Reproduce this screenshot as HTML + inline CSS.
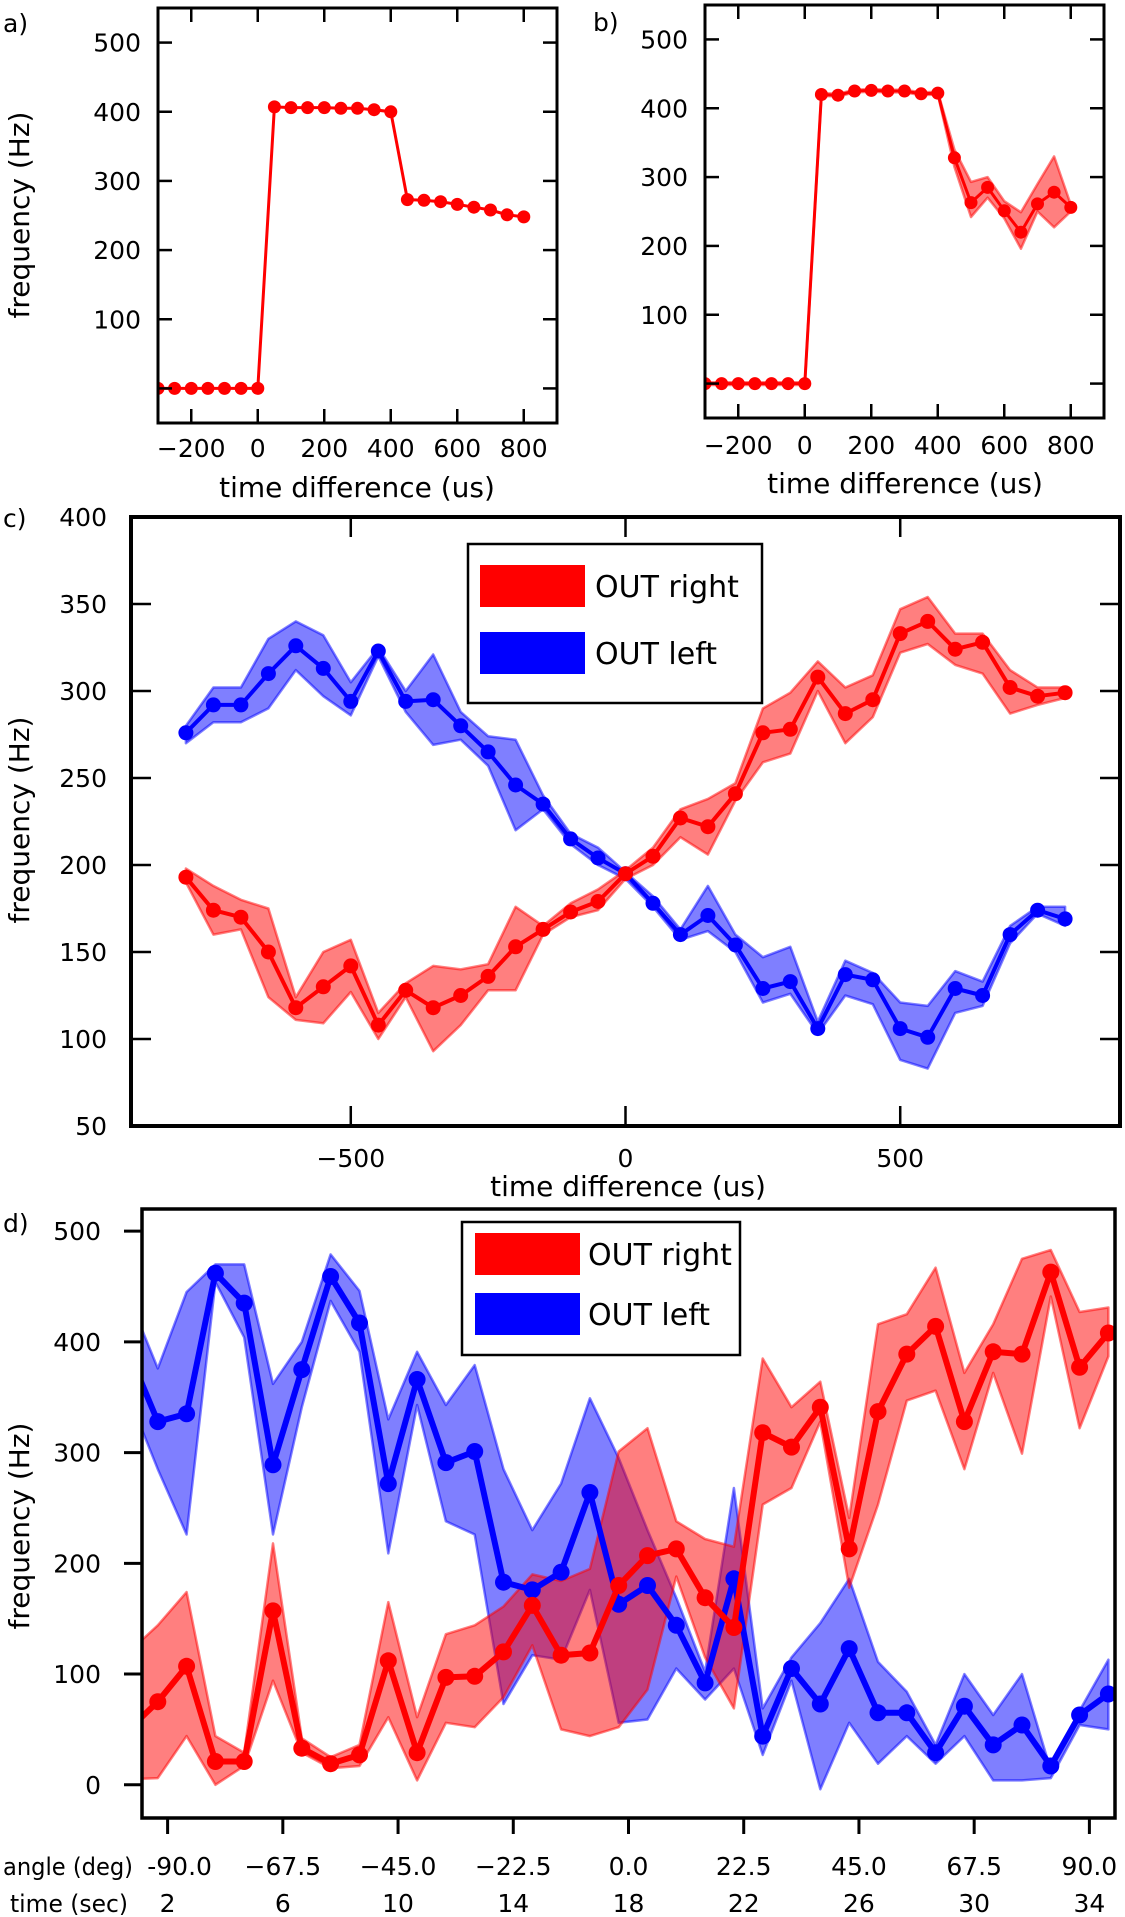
<!DOCTYPE html>
<html><head><meta charset="utf-8"><title>Frequency vs time difference</title>
<style>
html,body{margin:0;padding:0;background:#fff;}
svg{display:block;font-family:"DejaVu Sans","Liberation Sans",sans-serif;}
</style></head>
<body>
<svg id="fig" width="1125" height="1917" viewBox="0 0 1125 1917" xmlns="http://www.w3.org/2000/svg">
<rect x="0" y="0" width="1125" height="1917" fill="#fff"/>
</svg>
<script>
// ---------- Panel a ----------
const aX = [-300,-250,-200,-150,-100,-50,0,50,100,150,200,250,300,350,400,450,500,550,600,650,700,750,800];
const aY = [0,0,0,0,0,0,0,407,406,406,406,405,405,403,400,273,272,270,266,262,258,251,248];
const abXTicks = [-200,0,200,400,600,800];
const abYTicks = [0,100,200,300,400,500];
const abYLabels = ["","100","200","300","400","500"];
// ---------- Panel b ----------
const bX = [-300,-250,-200,-150,-100,-50,0,50,100,150,200,250,300,350,400,450,500,550,600,650,700,750,800];
const bY = [0,0,0,0,0,0,0,420,419,425,426,425,425,421,422,328,263,285,251,220,261,278,256];
const bUp = [2,2,2,2,2,2,2,422,421,427,428,427,427,423,424,340,293,300,265,249,290,330,260];
const bLo = [-2,-2,-2,-2,-2,-2,-2,418,417,423,424,423,423,419,420,315,242,270,240,196,250,227,250];
// ---------- Panel c ----------
const cX = [-800,-750,-700,-650,-600,-550,-500,-450,-400,-350,-300,-250,-200,-150,-100,-50,0,50,100,150,200,250,300,350,400,450,500,550,600,650,700,750,800];
const cLeft   = [276,292,292,310,326,313,294,323,294,295,280,265,246,235,215,204,195,178,160,171,154,129,133,106,137,134,106,101,129,125,160,174,169];
const cLeftUp = [280,302,302,330,340,332,305,325,300,321,288,274,272,240,218,210,196,182,163,188,160,147,153,110,145,138,121,119,139,133,165,176,176];
const cLeftLo = [270,282,282,290,312,297,286,320,288,269,272,257,220,232,212,200,192,176,157,162,150,121,126,103,125,120,88,83,115,119,155,172,165];
const cRight   = [193,174,170,150,118,130,142,108,128,118,125,136,153,163,173,179,195,205,227,222,241,276,278,308,287,295,333,340,324,328,302,297,299];
const cRightUp = [198,188,180,175,124,150,157,115,132,142,140,143,176,165,178,186,197,210,232,238,247,290,299,317,302,309,347,354,333,333,312,302,302];
const cRightLo = [190,160,163,124,111,109,127,100,124,93,108,128,128,160,170,174,192,200,216,206,237,259,264,300,270,285,322,327,315,310,287,292,296];
const cXTicks = [-500,0,500];
const cYTicks = [50,100,150,200,250,300,350,400];
// ---------- Panel d ----------
const dTime = [0.66,1.66,2.66,3.66,4.66,5.66,6.66,7.66,8.66,9.66,10.66,11.66,12.66,13.66,14.66,15.66,16.66,17.66,18.66,19.66,20.66,21.66,22.66,23.66,24.66,25.66,26.66,27.66,28.66,29.66,30.66,31.66,32.66,33.66,34.66];
const dLeft   = [390,328,335,462,435,289,375,459,417,272,366,291,301,183,176,192,264,163,180,144,92,186,44,105,73,123,65,65,29,71,36,54,17,63,82];
const dLeftUp = [440,376,445,470,470,362,400,479,446,330,391,343,379,285,230,272,349,295,230,169,102,268,69,115,146,186,111,84,36,100,63,100,13,67,113];
const dLeftLo = [350,285,226,454,404,226,341,437,391,209,343,238,226,73,117,113,176,56,59,105,77,105,27,94,-4,56,19,44,19,44,4,4,6,54,50];
const dRight   = [50,75,107,21,21,157,33,19,27,112,29,97,98,120,162,117,119,180,207,213,169,142,318,305,341,213,337,389,414,328,391,389,463,377,408];
const dRightUp = [120,144,174,44,29,218,42,25,36,165,61,136,144,161,190,184,195,301,322,238,222,215,385,341,364,241,416,425,467,372,416,475,483,427,431];
const dRightLo = [5,6,44,0,17,94,29,15,17,61,4,56,52,79,126,50,44,52,86,188,115,69,253,268,328,178,253,347,356,285,372,299,441,322,387];
const dAngleTicks = [-90,-67.5,-45,-22.5,0,22.5,45,67.5,90];
const dAngleLabels = ["-90.0","\u221267.5","\u221245.0","\u221222.5","0.0","22.5","45.0","67.5","90.0"];
const dTimeLabels = ["2","6","10","14","18","22","26","30","34"];
const dYTicks = [0,100,200,300,400,500];

const NS = "http://www.w3.org/2000/svg";
const svg = document.getElementById("fig");
function mk(tag, attrs, parent) {
  const e = document.createElementNS(NS, tag);
  for (const k in attrs) e.setAttribute(k, attrs[k]);
  (parent || svg).appendChild(e);
  return e;
}
function lin(d0, d1, r0, r1) { return v => r0 + (v - d0) * (r1 - r0) / (d1 - d0); }
function fmt(v) { return v < 0 ? "\u2212" + Math.abs(v) : String(v); }

function panel(name, L, T, R, B, xd, yd) {
  const g = mk("g", {});
  
  
  const cp = mk("clipPath", {id: "clip-" + name}, g);
  mk("rect", {x: L, y: T, width: R - L, height: B - T}, cp);
  const plot = mk("g", {"clip-path": "url(#clip-" + name + ")"}, g);
  
  
  return {g, plot, L, T, R, B, sx: lin(xd[0], xd[1], L, R), sy: lin(yd[0], yd[1], B, T)};
}
function band(p, xs, up, lo, color, alpha, nm) {
  let pts = [];
  for (let i = 0; i < xs.length; i++) pts.push(p.sx(xs[i]).toFixed(1) + "," + p.sy(up[i]).toFixed(1));
  for (let i = xs.length - 1; i >= 0; i--) pts.push(p.sx(xs[i]).toFixed(1) + "," + p.sy(lo[i]).toFixed(1));
  const e = mk("polygon", {points: pts.join(" "), fill: color, "fill-opacity": alpha, stroke: color, "stroke-opacity": alpha, "stroke-width": 2.5, "stroke-linejoin": "round"}, p.plot);
  
  
}
function series(p, xs, ys, color, lw, r, nm) {
  const pts = xs.map((x, i) => p.sx(x).toFixed(1) + "," + p.sy(ys[i]).toFixed(1)).join(" ");
  const l = mk("polyline", {points: pts, fill: "none", stroke: color, "stroke-width": lw, "stroke-linejoin": "round"}, p.plot);
  
  
  xs.forEach((x, i) => {
    const c = mk("circle", {cx: p.sx(x).toFixed(1), cy: p.sy(ys[i]).toFixed(1), r: r, fill: color}, p.plot);
    
    
  });
}
function frame(p, w) {
  const f = mk("rect", {x: p.L, y: p.T, width: p.R - p.L, height: p.B - p.T, fill: "none", stroke: "#000", "stroke-width": w}, p.g);
  
  
}
function text(str, x, y, size, anchor, nm, rot, tl) {
  const t = mk("text", {x: x, y: y, "font-size": size, "text-anchor": anchor || "start", fill: "#000"});
  if (rot) t.setAttribute("transform", "rotate(-90 " + x + " " + y + ")");
  if (tl) { t.setAttribute("textLength", tl); t.setAttribute("lengthAdjust", "spacingAndGlyphs"); }
  t.textContent = str;
  
  
  return t;
}
function ticksInside(p, xt, yt, len, w) {
  xt.forEach(v => {
    const x = p.sx(v);
    mk("line", {x1: x, y1: p.B, x2: x, y2: p.B - len, stroke: "#000", "stroke-width": w}, p.g);
    mk("line", {x1: x, y1: p.T, x2: x, y2: p.T + len, stroke: "#000", "stroke-width": w}, p.g);
  });
  yt.forEach(v => {
    const y = p.sy(v);
    mk("line", {x1: p.L, y1: y, x2: p.L + len, y2: y, stroke: "#000", "stroke-width": w}, p.g);
    mk("line", {x1: p.R, y1: y, x2: p.R - len, y2: y, stroke: "#000", "stroke-width": w}, p.g);
  });
}
function legend(x0, y0, x1, y1, px0, px1, rY, bY, ph, tx, fs) {
  const g = mk("g", {});
  
  
  mk("rect", {x: x0, y: y0, width: x1 - x0, height: y1 - y0, fill: "#fff", stroke: "#000", "stroke-width": 2.5}, g);
  const r1 = mk("rect", {x: px0, y: rY, width: px1 - px0, height: ph, fill: "#ff0000"}, g);
  
  
  const r2 = mk("rect", {x: px0, y: bY, width: px1 - px0, height: ph, fill: "#0000ff"}, g);
  
  
  g.appendChild(text("OUT right", tx, rY + ph / 2 + fs * 0.36, fs, "start", "legend-entry-out-right"));
  g.appendChild(text("OUT left", tx, bY + ph / 2 + fs * 0.36, fs, "start", "legend-entry-out-left"));
}

const FS = 25;
const TFS = 28;
// ===== Panel a =====
const pa = panel("panel-a", 158, 8, 557, 423, [-300, 900], [-50, 550]);
series(pa, aX, aY, "#ff0000", 3, 6.5, "a-series");
frame(pa, 3);
ticksInside(pa, abXTicks, abYTicks, 14, 2.5);
abYTicks.forEach((v, i) => text(abYLabels[i], 141, pa.sy(v) + 9, FS, "end", "a-y-tick-label"));
abXTicks.forEach(v => text(fmt(v), pa.sx(v), 457, FS, "middle", "a-x-tick-label"));
text("time difference (us)", 357, 497, TFS, "middle", "a-x-axis-title");
text("frequency (Hz)", 29, 215, TFS, "middle", "a-y-axis-title", true);
text("a)", 3, 32, FS, "start", "panel-a-label");

// ===== Panel b =====
const pb = panel("panel-b", 705, 5, 1104, 418, [-300, 900], [-50, 550]);
band(pb, bX, bUp, bLo, "#ff0000", 0.5, "b-band");
series(pb, bX, bY, "#ff0000", 3, 6.5, "b-series");
frame(pb, 3);
ticksInside(pb, abXTicks, abYTicks, 14, 2.5);
abYTicks.forEach((v, i) => text(abYLabels[i], 688, pb.sy(v) + 9, FS, "end", "b-y-tick-label"));
abXTicks.forEach(v => text(fmt(v), pb.sx(v), 454, FS, "middle", "b-x-tick-label"));
text("time difference (us)", 905, 493, TFS, "middle", "b-x-axis-title");
text("b)", 593, 31, FS, "start", "panel-b-label");

// ===== Panel c =====
const pc = panel("panel-c", 131, 517, 1120, 1126, [-900, 900], [50, 400]);
band(pc, cX, cLeftUp, cLeftLo, "#0000ff", 0.5, "c-out-left-band");
band(pc, cX, cRightUp, cRightLo, "#ff0000", 0.5, "c-out-right-band");
series(pc, cX, cLeft, "#0000ff", 4, 7.5, "c-out-left");
series(pc, cX, cRight, "#ff0000", 4, 7.5, "c-out-right");
frame(pc, 4);
ticksInside(pc, cXTicks, cYTicks, 20, 2.5);
cYTicks.forEach(v => text(String(v), 107, pc.sy(v) + 9, FS, "end", "c-y-tick-label"));
cXTicks.forEach(v => text(fmt(v), pc.sx(v), 1167, FS, "middle", "c-x-tick-label"));
text("time difference (us)", 628, 1196, TFS, "middle", "c-x-axis-title");
text("frequency (Hz)", 29, 820, TFS, "middle", "c-y-axis-title", true);
text("c)", 3, 527, FS, "start", "panel-c-label");
legend(468, 544, 762, 703, 480, 585, 565, 632, 42, 595, 30);

// ===== Panel d =====
const pd = panel("panel-d", 142, 1209, 1115, 1818, [-95, 95], [-30, 520]);
const dAngle = dTime.map(t => (t - 18) * 5.625);
band(pd, dAngle, dLeftUp, dLeftLo, "#0000ff", 0.5, "d-out-left-band");
band(pd, dAngle, dRightUp, dRightLo, "#ff0000", 0.5, "d-out-right-band");
series(pd, dAngle, dLeft, "#0000ff", 6, 8.5, "d-out-left");
series(pd, dAngle, dRight, "#ff0000", 6, 8.5, "d-out-right");
frame(pd, 3.5);
dYTicks.forEach(v => {
  const y = pd.sy(v);
  mk("line", {x1: pd.L, y1: y, x2: pd.L - 18, y2: y, stroke: "#000", "stroke-width": 3});
  text(String(v), 101, y + 9, FS, "end", "d-y-tick-label");
});
dAngleTicks.forEach((v, i) => {
  const x = pd.sx(v);
  mk("line", {x1: x, y1: pd.B, x2: x, y2: pd.B + 16, stroke: "#000", "stroke-width": 3});
  const shift = dAngleLabels[i].charAt(0) === "-" ? 12 : 0;
  text(dAngleLabels[i], x + shift, 1875, 25, "middle", "d-angle-tick-label");
  text(dTimeLabels[i], x, 1912, 25, "middle", "d-time-tick-label");
});
text("angle (deg)", 3, 1875, 24, "start", "d-angle-axis-title", false, 130);
text("time (sec)", 10, 1912, 24, "start", "d-time-axis-title", false, 118);
text("frequency (Hz)", 29, 1526, TFS, "middle", "d-y-axis-title", true);
text("d)", 3, 1232, FS, "start", "panel-d-label");
legend(462, 1222, 740, 1355, 475, 580, 1233, 1293, 42, 588, 30);
</script>
</body></html>
